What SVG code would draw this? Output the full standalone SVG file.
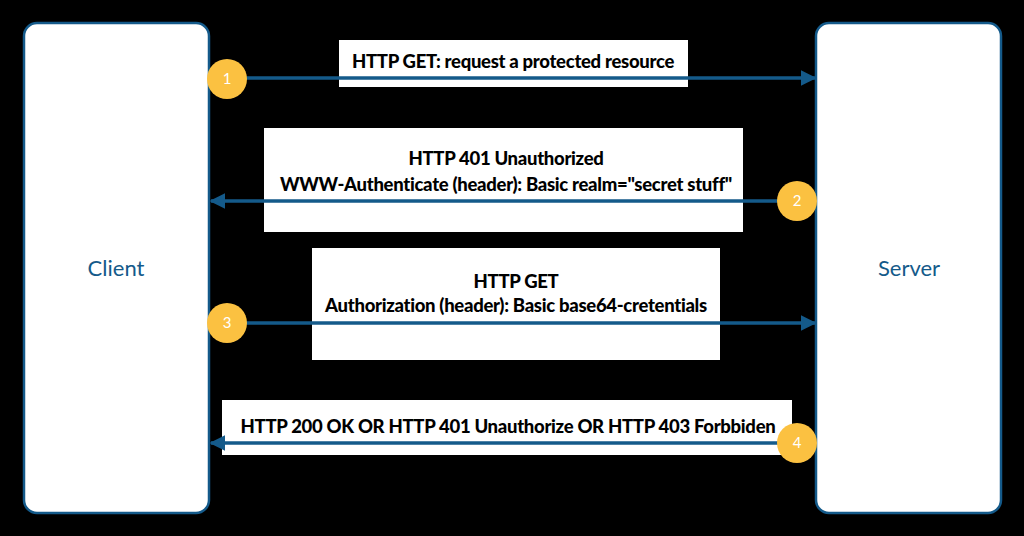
<svg xmlns="http://www.w3.org/2000/svg" width="1024" height="536" viewBox="0 0 1024 536">
<style>
.actor{fill:#fff;stroke:#145a8a;stroke-width:2.5}
.actor-t{font-family:Lato,"Open Sans",sans-serif;font-size:22px;fill:#145a8a;text-anchor:middle}
.lbl{fill:#fff}
.lt{font-family:Lato,"Open Sans",sans-serif;font-weight:900;font-size:18.5px;fill:#000;text-anchor:middle;letter-spacing:-0.3px}
.ln{stroke:#145a8a;stroke-width:3.5;fill:none}
.badge{fill:#fbc141}
.bt{font-family:Lato,"Open Sans",sans-serif;font-size:15px;fill:#fff;text-anchor:middle}
</style>
<defs>
<marker id="ah" viewBox="0 0 10 10" refX="9" refY="5" markerWidth="4.5" markerHeight="5" orient="auto" markerUnits="strokeWidth">
<path d="M0,0 L10,5 L0,10 z" fill="#145a8a"/>
</marker>
</defs>
<rect width="1024" height="536" fill="#000"/>
<g id="client">
<rect class="actor" x="24" y="23" width="185" height="490" rx="13"/>
<text class="actor-t" x="116" y="276">Client</text>
</g>
<g id="server">
<rect class="actor" x="816" y="23" width="185" height="490" rx="13"/>
<text class="actor-t" x="909" y="276">Server</text>
</g>
<g id="labels">
<rect class="lbl" x="339" y="40" width="349" height="47"/>
<rect class="lbl" x="264" y="128" width="479" height="104"/>
<rect class="lbl" x="312" y="248" width="408" height="112"/>
<rect class="lbl" x="222" y="400" width="570" height="55"/>
</g>
<g id="connectors">
<line class="ln" x1="245" y1="78" x2="815" y2="78" marker-end="url(#ah)"/>
<line class="ln" x1="780" y1="201" x2="211" y2="201" marker-end="url(#ah)"/>
<line class="ln" x1="245" y1="323" x2="815" y2="323" marker-end="url(#ah)"/>
<line class="ln" x1="780" y1="443" x2="211" y2="443" marker-end="url(#ah)"/>
</g>
<g id="msg1">
<text class="lt" x="513" y="68">HTTP GET: request a protected resource</text>
<circle class="badge" cx="227" cy="79" r="20"/>
<text class="bt" x="227" y="84">1</text>
</g>
<g id="msg2">
<text class="lt" x="506" y="165">HTTP 401 Unauthorized</text>
<text class="lt" x="506" y="191">WWW-Authenticate (header): Basic realm="secret stuff"</text>
<circle class="badge" cx="797" cy="201" r="20"/>
<text class="bt" x="797" y="206">2</text>
</g>
<g id="msg3">
<text class="lt" x="516" y="288">HTTP GET</text>
<text class="lt" x="516" y="312">Authorization (header): Basic base64-cretentials</text>
<circle class="badge" cx="227" cy="323" r="20"/>
<text class="bt" x="227" y="328">3</text>
</g>
<g id="msg4">
<text class="lt" x="508" y="433">HTTP 200 OK OR HTTP 401 Unauthorize OR HTTP 403 Forbbiden</text>
<circle class="badge" cx="797" cy="443" r="20"/>
<text class="bt" x="797" y="448">4</text>
</g>
</svg>
